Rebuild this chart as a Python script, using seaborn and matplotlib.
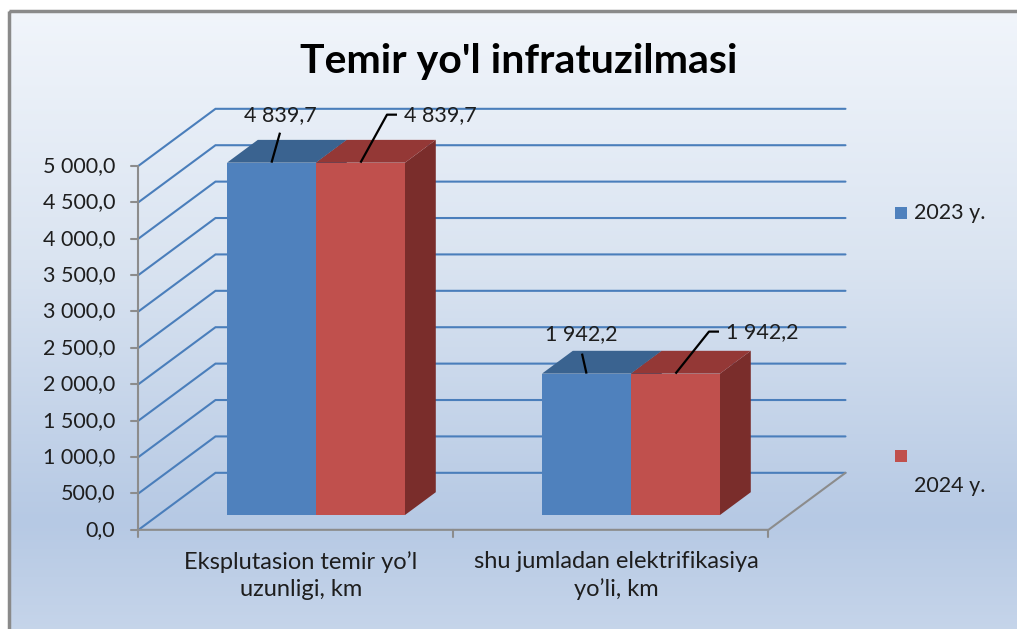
import numpy as np
import pandas as pd
import matplotlib
matplotlib.use("Agg")
import matplotlib.pyplot as plt
import seaborn as sns
from matplotlib.patches import Polygon, Rectangle

# ---------------- data ----------------
title = "Temir yo'l infratuzilmasi"
categories = ["Eksplutasion temir yo\u2019l\nuzunligi, km",
              "shu jumladan elektrifikasiya\nyo\u2019li, km"]
series_names = ["2023 y.", "2024 y."]
values_2023 = [4839.7, 1942.2]
values_2024 = [4839.7, 1942.2]
y_ticks = [0, 500, 1000, 1500, 2000, 2500, 3000, 3500, 4000, 4500, 5000]

# ---------------- style ----------------
sns.set_theme(style="white")
plt.rcParams['font.family'] = ['Lato', 'DejaVu Sans']

BLUE = "#4F81BD"
RED = "#C0504D"
TOP_COL = {BLUE: "#3A6390", RED: "#943836"}
SIDE_COL = {BLUE: "#2F5279", RED: "#7A2D2B"}
GRID = "#4A7EBB"
AXIS = "#8C8C8C"
TXT = "#1E1E1E"
NUM_FS = 15.5
CAT_FS = 17


def fmt(v):
    return f"{v:,.1f}".replace(",", " ").replace(".", ",")


W, H = 1017, 629
fig = plt.figure(figsize=(W / 100, H / 100), dpi=100)

# background (pixel coordinates)
bg = fig.add_axes([0, 0, 1, 1], zorder=-5)
bg.set_xlim(0, W)
bg.set_ylim(H, 0)
bg.axis('off')
stops = [(0.0, (241, 245, 251)), (0.40, (218, 228, 241)),
         (0.82, (182, 201, 228)), (1.0, (198, 213, 234))]
rows = np.linspace(0, 1, 400)
grad = np.zeros((400, 1, 3))
for k in range(3):
    grad[:, 0, k] = np.interp(rows, [s[0] for s in stops], [s[1][k] / 255 for s in stops])
bg.imshow(grad, extent=[9, W + 5, H + 5, 11], aspect='auto', zorder=0)
bg.add_patch(Rectangle((9, 11), W + 10, H + 10, fill=False, edgecolor="#8A8A8A", lw=2.5, zorder=1))

bg.text(519, 73, title, ha='center', va='baseline', fontsize=29.5, fontweight='bold', color='black')

# legend
for (name, col, sq_y, tx_y) in [(series_names[0], BLUE, 207, 213), (series_names[1], RED, 450, 486)]:
    bg.add_patch(Rectangle((895, sq_y), 12, 12, facecolor=col, edgecolor='none', zorder=2))
    bg.text(914, tx_y, name, ha='left', va='center', fontsize=15.5, color=TXT)

# ---------------- main axes (bar front plane) ----------------
X0, SX = 316.0, 315.0     # px of category 0 centre, px per category
Y0, SY = 515.0, 0.0728    # px (from top) of value 0, px per unit value
ax = fig.add_axes([0, 0, 1, 1])
ax.patch.set_alpha(0)

df = pd.DataFrame({
    "category": categories * 2,
    "year": [series_names[0]] * 2 + [series_names[1]] * 2,
    "value": values_2023 + values_2024,
})
sns.barplot(data=df, x="category", y="value", hue="year", palette=[BLUE, RED],
            width=0.565, errorbar=None, saturation=1, legend=False, ax=ax,
            edgecolor='none', linewidth=0, zorder=3)

ax.set_xlim(-X0 / SX, (W - X0) / SX)
ax.set_ylim(-(H - Y0) / SY, Y0 / SY)
ax.axis('off')

DX, DV = 77.0 / SX, 57.0 / SY   # full floor depth offset in data units
FRONT = 0.26                    # depth of bar front plane
BACK = 0.66                     # depth of bar back plane


def P(x, v, d):
    return (x + (d - FRONT) * DX, v + (d - FRONT) * DV)


xl, xr = -0.5, len(categories) - 0.5
# walls / gridlines
for v in y_ticks:
    pts = [P(xl, v, 0), P(xl, v, 1), P(xr, v, 1)]
    ax.plot([p[0] for p in pts], [p[1] for p in pts], color=GRID, lw=1.5, zorder=1,
            solid_joinstyle='miter')
# floor edges
pts = [P(xl, 0, 0), P(xr, 0, 0), P(xr, 0, 1)]
ax.plot([p[0] for p in pts], [p[1] for p in pts], color=AXIS, lw=1.5, zorder=1.5)
# value axis
a0, a1 = P(xl, 0, 0), P(xl, y_ticks[-1], 0)
ax.plot([a0[0], a1[0]], [a0[1], a1[1]], color=AXIS, lw=1.5, zorder=1.5)
tick_px = 7
for v in y_ticks:
    p = P(xl, v, 0)
    ax.plot([p[0] - tick_px / SX, p[0]], [p[1], p[1]], color=AXIS, lw=1.5, zorder=1.5)
    ax.text(p[0] - 23 / SX, p[1], fmt(v), ha='right', va='center', fontsize=NUM_FS, color=TXT)
for c in np.arange(len(categories) + 1) - 0.5:
    p = P(c, 0, 0)
    ax.plot([p[0], p[0]], [p[1], p[1] - tick_px / SY], color=AXIS, lw=1.5, zorder=1.5)
for i, cat in enumerate(categories):
    p = P(i, 0, 0)
    ax.text(p[0] + 5 / SX, p[1] - 21 / SY, cat, ha='center', va='top', fontsize=CAT_FS,
            color=TXT, linespacing=1.38)

# 3D faces of the bars
bars = [b for b in list(ax.patches) if isinstance(b, Rectangle) and b.get_height() > 0]
ddx, ddv = (BACK - FRONT) * DX, (BACK - FRONT) * DV
for b in bars:
    x0, w, h = b.get_x(), b.get_width(), b.get_height()
    col = matplotlib.colors.to_hex(b.get_facecolor()).upper()
    key = BLUE if col == BLUE.upper() else RED
    side = Polygon([(x0 + w, 0), (x0 + w, h), (x0 + w + ddx, h + ddv), (x0 + w + ddx, ddv)],
                   closed=True, facecolor=SIDE_COL[key], edgecolor='none', zorder=2)
    top = Polygon([(x0, h), (x0 + w, h), (x0 + w + ddx, h + ddv), (x0 + ddx, h + ddv)],
                  closed=True, facecolor=TOP_COL[key], edgecolor='none', zorder=3.5)
    ax.add_patch(side)
    ax.add_patch(top)

# data labels with leader lines (pixel offsets relative to bar front-top centre)
leader_offsets = [
    [(8.5, 30)],
    [(-4.5, 20)],
    [(26.5, 48), (36.5, 48)],
    [(33.5, 42), (43.5, 42)],
]
text_offsets = [(8.5, 48, 'center'), (-5.5, 40, 'center'), (43.5, 48, 'left'), (50.5, 42, 'left')]
order = sorted(bars, key=lambda b: b.get_x())
idx_map = [0, 2, 1, 3]
for j, b in enumerate(order):
    k = idx_map[j]
    cx, h = b.get_x() + b.get_width() / 2, b.get_height()
    xs = [cx] + [cx + o[0] / SX for o in leader_offsets[k]]
    ys = [h] + [h + o[1] / SY for o in leader_offsets[k]]
    ax.plot(xs, ys, color='black', lw=1.6, zorder=5, solid_capstyle='butt')
    tx, ty, ha = text_offsets[k]
    ax.text(cx + tx / SX, h + ty / SY, fmt(h), ha=ha, va='center', fontsize=NUM_FS, color=TXT, zorder=6)

fig.savefig("out.png", dpi=100)
